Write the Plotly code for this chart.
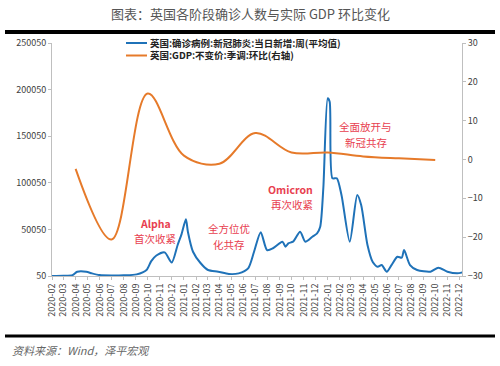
import plotly.graph_objects as go

# ---- data ----
case_dates = [
    "2020-02-01", "2020-03-01", "2020-03-24", "2020-04-05", "2020-04-28", "2020-05-12",
    "2020-06-01", "2020-07-01", "2020-08-01", "2020-09-03", "2020-09-28", "2020-10-10",
    "2020-10-23", "2020-11-13", "2020-12-01", "2020-12-16", "2020-12-26", "2021-01-06",
    "2021-01-11", "2021-01-24", "2021-02-12", "2021-03-03", "2021-03-29", "2021-04-25",
    "2021-05-20", "2021-06-13", "2021-06-28", "2021-07-15", "2021-07-31", "2021-08-15",
    "2021-09-08", "2021-09-16", "2021-09-23", "2021-10-05", "2021-10-23", "2021-11-05",
    "2021-11-23", "2021-12-05", "2021-12-13", "2021-12-21", "2022-01-01", "2022-01-06",
    "2022-01-13", "2022-01-24", "2022-02-05", "2022-02-26", "2022-03-17", "2022-03-27",
    "2022-04-12", "2022-04-25", "2022-05-08", "2022-05-18", "2022-05-31", "2022-06-12",
    "2022-06-27", "2022-07-08", "2022-07-14", "2022-07-29", "2022-08-16", "2022-09-19",
    "2022-10-09", "2022-11-01", "2022-11-26", "2022-12-10",
]
case_values = [
    50, 300, 1000, 4600, 4600, 2900,
    1000, 600, 800, 1800, 6500, 16000,
    22000, 25400, 14500, 33300, 45000, 61000,
    47600, 26100, 14000, 6500, 4700, 2200,
    2900, 8300, 26100, 47000, 27900, 29800,
    36900, 31500, 35100, 36900, 47600, 36900,
    42200, 45800, 52900, 95000, 190700, 187000,
    104900, 104900, 87000, 36900, 87000, 76200,
    33300, 15400, 10000, 11800, 4700, 11800,
    20700, 19700, 27900, 11800, 6500, 4700,
    9000, 4700, 2900, 4000,
]

gdp_dates = ["2020-04-01", "2020-07-01", "2020-10-01", "2021-01-01", "2021-04-01",
             "2021-07-01", "2021-10-01", "2022-01-01", "2022-04-01", "2022-07-01",
             "2022-10-01"]
gdp_values = [-2.4, -20.6, 17.0, 1.0, -1.1, 6.8, 1.8, 1.8, 0.8, 0.3, -0.1]

month_ticks = [f"{y}-{m:02d}-01" for y in (2020, 2021, 2022) for m in range(1, 13)][1:]
month_labels = [t[:7] for t in month_ticks]

left_ticks = [50, 50050, 100050, 150050, 200050, 250050]
right_ticks = [-30, -20, -10, 0, 10, 20, 30]

name_cases = "英国:确诊病例:新冠肺炎:当日新增:周(平均值)"
name_gdp = "英国:GDP:不变价:季调:环比(右轴)"

notes = [
    ("<b>Alpha</b>", 155, 223), ("首次收紧", 155, 238),
    ("全方位优", 229, 228), ("化共存", 229, 244),
    ("<b>Omicron</b>", 290, 189), ("再次收紧", 292, 204),
    ("全面放开与", 365, 127), ("新冠共存", 366, 142),
]

# ---- layout helpers ----
W, H = 500, 366
L, R, T, B = 52, 462, 43, 276
def px(x):
    return (x - L) / (R - L)
def py(y):
    return (B - y) / (B - T)

BLUE = "#1F72B8"
ORANGE = "#E67A2A"
RED = "#E8404F"
GREY = "#BFBFBF"
FONT = "Noto Sans CJK SC"

fig = go.Figure()
fig.add_trace(go.Scatter(x=case_dates, y=case_values, name=name_cases, mode="lines",
                         line=dict(color=BLUE, width=2, shape="spline", smoothing=0.7),
                         yaxis="y", showlegend=False))
fig.add_trace(go.Scatter(x=gdp_dates, y=gdp_values, name=name_gdp, mode="lines",
                         line=dict(color=ORANGE, width=2, shape="spline", smoothing=1.0),
                         yaxis="y2", showlegend=False))

annotations = []
for txt, x, y in notes:
    annotations.append(dict(text=txt, x=px(x), y=py(y), xref="paper", yref="paper",
                            showarrow=False, xanchor="center", yanchor="middle",
                            font=dict(family=FONT, size=10.5, color=RED)))
annotations.append(dict(text="图表：英国各阶段确诊人数与实际 GDP 环比变化", x=px(250), y=py(13),
                        xref="paper", yref="paper", showarrow=False,
                        xanchor="center", yanchor="middle",
                        font=dict(family=FONT, size=13, color="#555555")))
annotations.append(dict(text="<i>资料来源：Wind，泽平宏观</i>", x=px(10), y=py(350),
                        xref="paper", yref="paper", showarrow=False,
                        xanchor="left", yanchor="middle",
                        font=dict(family=FONT, size=11, color="#666666")))

shapes = [
    dict(type="rect", xref="paper", yref="paper", x0=px(5), x1=px(495),
         y0=py(34), y1=py(30), fillcolor="black", line=dict(color="black", width=0),
         layer="above"),
    dict(type="line", xref="paper", yref="paper", x0=px(5), x1=px(495), y0=py(336), y1=py(336),
         line=dict(color="black", width=3), layer="above"),
]

# manual legend (two rows)
for i, (nm, col) in enumerate([(name_cases, BLUE), (name_gdp, ORANGE)]):
    ly = 43 + i * 12.5
    shapes.append(dict(type="line", xref="paper", yref="paper", x0=px(126), x1=px(147),
                       y0=py(ly), y1=py(ly), line=dict(color=col, width=2)))
    annotations.append(dict(text=f"<b>{nm}</b>", x=px(148), y=py(ly), xref="paper", yref="paper",
                            showarrow=False, xanchor="left", yanchor="middle",
                            font=dict(family=FONT, size=9.5, color="#222222")))

fig.update_layout(
    width=W, height=H,
    margin=dict(l=L, r=W - R, t=T, b=H - B, autoexpand=False),
    paper_bgcolor="white", plot_bgcolor="white",
    font=dict(family=FONT, size=9, color="#404040"),
    showlegend=False,
    xaxis=dict(type="date", range=["2020-02-01", "2022-12-08"], automargin=False,
               tickvals=month_ticks, ticktext=month_labels, tickangle=-90,
               showgrid=False, showline=True, linecolor=GREY, linewidth=1,
               ticks="outside", ticklen=3, tickcolor=GREY,
               tickfont=dict(size=9, color="#404040"), zeroline=False),
    yaxis=dict(range=[50, 250050], tickvals=left_ticks, ticktext=[str(v) for v in left_ticks],
               automargin=False,
               showgrid=False, showline=True, linecolor=GREY, linewidth=1,
               ticks="outside", ticklen=3, tickcolor=GREY, zeroline=False,
               tickfont=dict(size=9, color="#404040")),
    yaxis2=dict(range=[-30, 30], tickvals=right_ticks, overlaying="y", side="right",
                automargin=False,
                showgrid=False, showline=True, linecolor=GREY, linewidth=1,
                ticks="outside", ticklen=3, tickcolor=GREY, zeroline=False,
                tickfont=dict(size=9, color="#404040")),
    annotations=annotations,
    shapes=shapes,
)

fig.write_html("out.html", config={"displayModeBar": False},
               post_script="document.body.style.margin='0';document.body.style.padding='0';")
